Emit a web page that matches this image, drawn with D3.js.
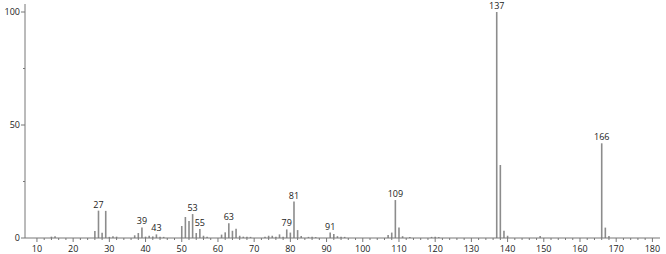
<!DOCTYPE html>
<html>
<head>
<meta charset="utf-8">
<style>
    body { margin: 0; background: #fff; }
    text { font-family: 'Open Sans', sans-serif; }
</style>
</head>
<body>
<svg width="666" height="254"></svg>
<script src="https://cdn.jsdelivr.net/npm/d3@7"></script>
<script>
    // m/z and relative abundance
    var mz = [14, 15, 26, 27, 28, 29, 30, 31, 32, 37, 38, 39, 40, 41, 42, 43, 44, 45,
              50, 51, 52, 53, 54, 55, 56, 57, 61, 62, 63, 64, 65, 66, 67, 68, 69,
              73, 74, 75, 76, 77, 78, 79, 80, 81, 82, 83, 85, 86, 87,
              91, 92, 93, 94, 95, 107, 108, 109, 110, 111, 113, 119, 120, 121,
              137, 138, 139, 140, 149, 166, 167, 168];
    var abundance = [0.6, 0.8, 3.1, 12.1, 2.3, 12.0, 0.5, 0.8, 0.6, 1.2, 2.2, 4.7, 0.6, 1.0, 0.7, 1.6, 0.6, 0.5,
                     5.3, 9.3, 7.5, 10.6, 2.2, 4.0, 1.0, 0.6, 1.5, 2.5, 6.5, 3.2, 4.1, 1.0, 0.6, 0.5, 0.5,
                     0.6, 1.0, 1.0, 0.6, 1.6, 0.5, 3.8, 2.4, 16.1, 3.5, 0.9, 0.5, 0.5, 0.4,
                     2.4, 1.8, 0.8, 0.5, 0.5, 1.3, 2.4, 16.8, 4.7, 0.8, 0.4, 0.5, 0.6, 0.4,
                     100, 32.3, 3.2, 1.0, 0.9, 41.9, 4.6, 0.9];
    var labelled = [27, 39, 43, 53, 55, 63, 79, 81, 91, 109, 137, 166];
    var xTicks = d3.range(10, 181, 10);
    var xMinor = d3.range(10, 182, 2);
    var yTicks = [0, 50, 100];
    var yMinor = [25, 75];

    var data = mz.map(function (m, i) { return { mz: m, v: abundance[i] }; });

    var svg = d3.select("svg");
    var x = d3.scaleLinear().domain([6.7, 182.1]).range([25, 660]);
    var y = d3.scaleLinear().domain([0, 100]).range([238, 12]);
    var grey = "#8c8c8c";

    // bars
    svg.append("g")
        .selectAll("line")
        .data(data)
        .enter().append("line")
        .attr("x1", function (d) { return x(d.mz); })
        .attr("x2", function (d) { return x(d.mz); })
        .attr("y1", y(0))
        .attr("y2", function (d) { return y(d.v); })
        .attr("stroke", grey)
        .attr("stroke-width", 1.6);

    // peak labels
    svg.append("g")
        .selectAll("text")
        .data(data.filter(function (d) { return labelled.indexOf(d.mz) >= 0; }))
        .enter().append("text")
        .attr("x", function (d) { return x(d.mz); })
        .attr("y", function (d) { return y(d.v) - 3; })
        .attr("text-anchor", "middle")
        .attr("font-size", 9)
        .attr("fill", "#222")
        .text(function (d) { return d.mz; });

    // x axis
    var xAxis = svg.append("g");
    xAxis.append("line")
        .attr("x1", x.range()[0]).attr("x2", x.range()[1])
        .attr("y1", y(0)).attr("y2", y(0))
        .attr("stroke", "#777");
    xAxis.selectAll("line.minor")
        .data(xMinor)
        .enter().append("line")
        .attr("class", "minor")
        .attr("x1", function (d) { return x(d); })
        .attr("x2", function (d) { return x(d); })
        .attr("y1", y(0))
        .attr("y2", function (d) { return y(0) + (d % 10 === 0 ? 4 : 2); })
        .attr("stroke", "#777");
    xAxis.selectAll("text")
        .data(xTicks)
        .enter().append("text")
        .attr("x", function (d) { return x(d); })
        .attr("y", 252)
        .attr("text-anchor", "middle")
        .attr("font-size", 9)
        .attr("fill", "#222")
        .text(function (d) { return d; });

    // y axis
    var yAxis = svg.append("g");
    yAxis.append("line")
        .attr("x1", 25).attr("x2", 25)
        .attr("y1", 4).attr("y2", y(0))
        .attr("stroke", "#777");
    yAxis.selectAll("line.tick")
        .data(yTicks.concat(yMinor))
        .enter().append("line")
        .attr("class", "tick")
        .attr("x1", 25)
        .attr("x2", function (d) { return yTicks.indexOf(d) >= 0 ? 21 : 23; })
        .attr("y1", function (d) { return y(d); })
        .attr("y2", function (d) { return y(d); })
        .attr("stroke", "#777");
    yAxis.selectAll("text")
        .data(yTicks)
        .enter().append("text")
        .attr("x", 20)
        .attr("y", function (d) { return y(d); })
        .attr("dy", "0.35em")
        .attr("text-anchor", "end")
        .attr("font-size", 9)
        .attr("fill", "#222")
        .text(function (d) { return d; });
</script>
</body>
</html>
